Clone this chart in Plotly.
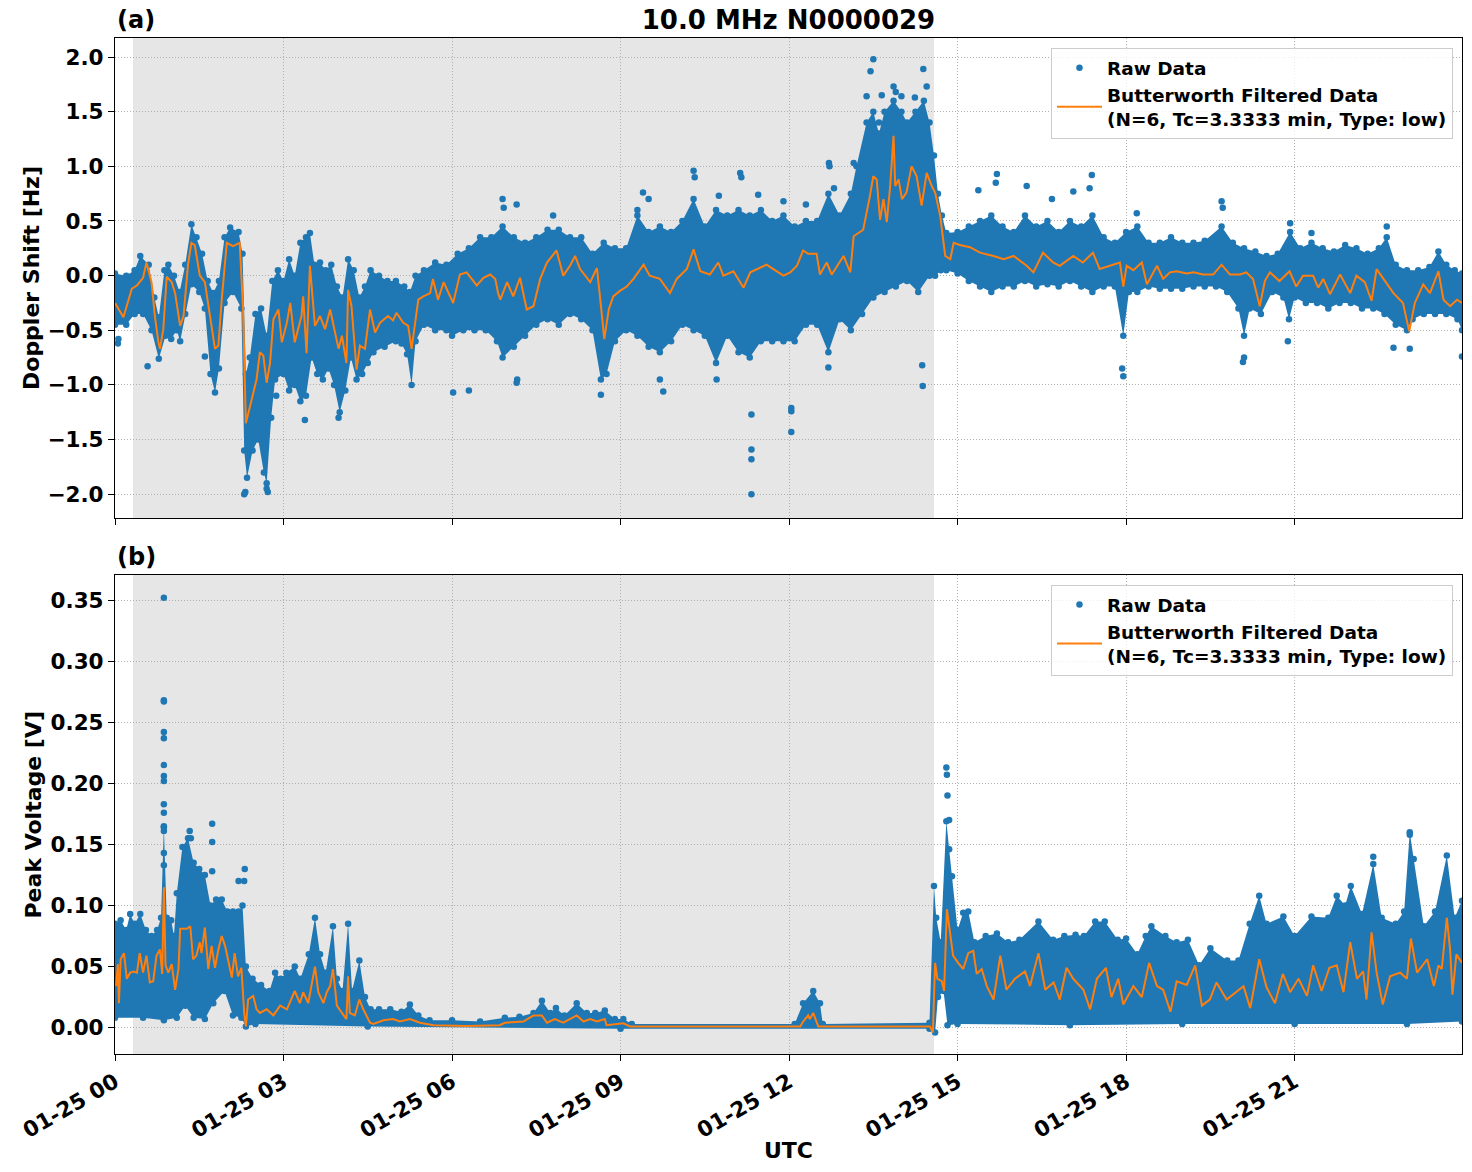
import pandas as pd
import plotly.graph_objects as go

# ---------------- data (hours after 01-25 00:00 UTC) ----------------
TOP_FILT_T = [0.00,0.15,0.30,0.39,0.50,0.56,0.65,0.71,0.77,0.80,0.86,0.92,1.01,1.07,1.16,1.22,1.30,1.36,1.42,1.51,
              1.60,1.69,1.78,1.84,1.90,1.99,2.10,2.22,2.28,2.33,2.40,2.46,2.52,2.58,2.64,2.70,2.76,2.82,2.91,2.97,
              3.06,3.12,3.20,3.32,3.35,3.41,3.47,3.56,3.65,3.74,3.83,3.98,4.04,4.12,4.15,4.21,4.30,4.36,4.45,4.54,
              4.63,4.72,4.86,4.95,5.01,5.13,5.22,5.28,5.40,5.49,5.61,5.66,5.75,5.85,6.02,6.14,6.26,6.44,6.56,6.68,
              6.77,6.82,6.86,6.98,7.09,7.21,7.33,7.45,7.57,7.69,7.86,7.98,8.10,8.19,8.28,8.46,8.58,8.67,8.71,8.79,
              8.87,8.99,9.11,9.23,9.41,9.52,9.70,9.88,10.00,10.18,10.30,10.42,10.59,10.74,10.83,11.01,11.19,11.31,11.60,11.72,
              11.90,12.02,12.14,12.25,12.34,12.49,12.55,12.67,12.76,12.97,13.09,13.15,13.32,13.44,13.50,13.56,13.62,13.68,13.74,13.80,
              13.86,13.89,13.95,14.01,14.09,14.18,14.27,14.36,14.45,14.54,14.60,14.69,14.78,14.87,14.93,15.04,15.22,15.40,15.64,15.82,
              16.00,16.23,16.35,16.52,16.70,16.82,17.06,17.23,17.41,17.53,17.77,17.89,17.95,18.01,18.13,18.28,18.37,18.55,18.66,18.78,
              18.90,19.08,19.20,19.37,19.55,19.70,19.85,20.03,20.14,20.26,20.38,20.47,20.56,20.73,20.91,21.03,21.15,21.33,21.42,21.51,
              21.63,21.81,21.99,22.10,22.25,22.37,22.46,22.58,22.76,22.93,23.04,23.14,23.29,23.41,23.56,23.65,23.77,23.89,23.98]
TOP_FILT_V = [-0.25,-0.38,-0.12,-0.09,-0.02,0.12,-0.06,-0.37,-0.60,-0.67,-0.49,-0.01,-0.06,-0.16,-0.46,-0.37,0.10,0.30,0.28,0.00,
              -0.06,-0.37,-0.67,-0.64,-0.22,0.30,0.27,0.30,-0.31,-1.35,-1.20,-1.10,-0.95,-0.70,-0.73,-0.98,-0.80,-0.40,-0.31,-0.61,
              -0.43,-0.25,-0.61,-0.37,-0.19,-0.71,0.09,-0.46,-0.37,-0.49,-0.31,-0.67,-0.55,-0.80,-0.13,-0.28,-0.86,-0.64,-0.67,-0.31,
              -0.52,-0.43,-0.37,-0.41,-0.34,-0.43,-0.46,-0.67,-0.22,-0.19,-0.16,-0.03,-0.22,-0.06,-0.25,0.01,0.03,-0.09,-0.02,0.01,
              -0.03,-0.16,-0.22,-0.06,-0.19,-0.02,-0.31,-0.28,-0.03,0.12,0.23,0.00,0.09,0.18,0.06,-0.06,0.07,-0.37,-0.58,-0.31,
              -0.19,-0.14,-0.10,-0.03,0.10,0.00,-0.03,-0.16,-0.03,0.06,0.24,0.04,0.01,0.12,0.00,0.04,-0.11,0.03,0.10,0.06,
              0.00,0.03,0.09,0.23,0.20,0.20,0.01,0.12,0.01,0.18,0.03,0.36,0.42,0.73,0.91,0.88,0.51,0.70,0.49,0.82,
              1.28,0.82,0.88,0.70,0.76,1.00,0.91,0.64,0.94,0.82,0.76,0.55,0.18,0.15,0.30,0.28,0.26,0.21,0.18,0.15,
              0.18,0.09,0.03,0.21,0.12,0.09,0.18,0.12,0.21,0.06,0.10,0.12,-0.10,0.09,0.05,0.12,-0.08,0.09,-0.03,0.03,
              0.04,0.02,0.03,0.01,0.01,0.10,0.01,0.01,0.03,-0.03,-0.28,-0.05,0.03,-0.05,0.04,-0.10,0.00,0.00,-0.11,-0.03,
              -0.17,0.01,-0.16,0.00,-0.06,-0.23,0.06,-0.03,-0.16,-0.25,-0.51,-0.25,-0.08,-0.16,0.04,-0.22,-0.28,-0.22,-0.25]

TOP_HI_T = [0.0,0.2,0.35,0.45,0.6,0.7,0.78,0.88,0.95,1.05,1.15,1.25,1.36,1.45,1.55,1.65,1.75,1.85,1.95,2.05,
            2.2,2.27,2.33,2.40,2.50,2.6,2.7,2.8,2.9,3.0,3.1,3.2,3.3,3.4,3.47,3.55,3.65,3.75,3.85,3.95,
            4.05,4.15,4.25,4.35,4.45,4.55,4.7,4.85,5.0,5.15,5.25,5.35,5.5,5.7,5.9,6.1,6.3,6.5,6.7,6.9,
            7.1,7.3,7.5,7.7,7.9,8.1,8.3,8.5,8.7,8.9,9.1,9.3,9.5,9.7,9.9,10.1,10.3,10.5,10.7,10.9,
            11.1,11.3,11.5,11.7,11.9,12.1,12.3,12.5,12.7,12.9,13.1,13.2,13.38,13.5,13.6,13.7,13.86,14.0,14.1,14.25,
            14.4,14.5,14.58,14.65,14.72,14.8,15.0,15.2,15.4,15.6,15.8,16.0,16.2,16.4,16.6,16.8,17.0,17.2,17.4,17.6,
            17.8,18.0,18.2,18.4,18.6,18.8,19.0,19.2,19.4,19.7,19.9,20.1,20.3,20.5,20.7,20.92,21.1,21.3,21.5,21.7,
            21.9,22.1,22.3,22.5,22.64,22.8,23.0,23.2,23.4,23.56,23.7,23.85,23.98]
TOP_HI = [0.02,0.00,0.05,0.18,0.10,-0.20,-0.38,0.05,0.10,0.00,-0.15,0.10,0.47,0.35,0.20,-0.05,-0.16,-0.05,0.35,0.44,
          0.40,0.20,-0.90,-0.75,-0.35,-0.30,-0.55,-0.05,0.05,-0.05,0.15,0.00,0.30,0.35,0.39,0.10,0.12,0.05,0.10,-0.10,
          -0.20,0.15,0.05,-0.20,-0.10,0.05,0.00,-0.05,-0.05,-0.10,-0.15,0.00,0.05,0.12,0.10,0.20,0.25,0.35,0.35,0.45,
          0.35,0.30,0.35,0.42,0.42,0.35,0.35,0.20,0.30,0.25,0.25,0.55,0.40,0.45,0.40,0.50,0.70,0.45,0.60,0.55,
          0.60,0.55,0.60,0.50,0.55,0.45,0.50,0.50,0.75,0.55,0.75,1.00,1.40,1.50,1.30,1.50,1.60,1.50,1.40,1.50,
          1.60,1.40,1.10,0.75,0.55,0.39,0.40,0.45,0.50,0.55,0.45,0.40,0.55,0.45,0.50,0.40,0.50,0.45,0.55,0.35,
          0.30,0.40,0.45,0.30,0.30,0.35,0.30,0.30,0.32,0.45,0.30,0.25,0.22,0.18,0.20,0.40,0.25,0.30,0.25,0.22,
          0.28,0.25,0.20,0.25,0.35,0.10,0.05,0.05,0.08,0.22,0.10,0.05,0.02]

TOP_LO_T = [0.0,0.2,0.35,0.5,0.65,0.78,0.9,1.0,1.1,1.16,1.25,1.36,1.5,1.6,1.7,1.78,1.85,1.95,2.1,2.25,
            2.3,2.35,2.45,2.55,2.65,2.7,2.78,2.85,3.0,3.1,3.2,3.3,3.4,3.5,3.6,3.7,3.8,3.9,4.0,4.1,
            4.2,4.3,4.4,4.5,4.6,4.8,5.0,5.1,5.2,5.28,5.35,5.5,5.7,5.9,6.0,6.2,6.4,6.6,6.8,6.9,
            7.1,7.3,7.5,7.7,7.9,8.1,8.3,8.5,8.65,8.75,8.9,9.1,9.3,9.5,9.7,9.9,10.1,10.3,10.5,10.7,
            10.9,11.1,11.3,11.5,11.7,11.9,12.1,12.3,12.5,12.7,12.9,13.1,13.3,13.5,13.7,13.9,14.1,14.3,14.5,14.6,
            14.7,14.8,15.0,15.2,15.4,15.6,15.8,16.0,16.2,16.4,16.6,16.8,17.0,17.2,17.4,17.6,17.8,17.95,18.05,18.2,
            18.4,18.6,18.8,19.0,19.2,19.4,19.6,19.8,20.0,20.1,20.2,20.4,20.6,20.8,20.9,21.0,21.2,21.4,21.6,21.8,
            22.0,22.2,22.4,22.6,22.8,23.0,23.1,23.3,23.5,23.7,23.9,23.98]
TOP_LO = [-0.45,-0.45,-0.35,-0.35,-0.50,-0.76,-0.55,-0.58,-0.50,-0.60,-0.35,-0.08,-0.15,-0.30,-0.90,-1.07,-0.85,-0.25,-0.15,-0.30,
          -1.60,-1.85,-1.60,-1.50,-1.80,-1.90,-1.30,-0.95,-0.90,-1.05,-1.00,-1.15,-1.10,-0.75,-0.90,-0.95,-0.85,-1.00,-1.25,-1.05,
          -0.75,-0.95,-0.90,-0.80,-0.70,-0.65,-0.60,-0.62,-0.72,-1.00,-0.60,-0.45,-0.50,-0.50,-0.55,-0.50,-0.50,-0.50,-0.60,-0.75,
          -0.65,-0.55,-0.45,-0.40,-0.45,-0.35,-0.40,-0.50,-0.95,-0.90,-0.60,-0.50,-0.55,-0.65,-0.70,-0.60,-0.45,-0.50,-0.55,-0.80,
          -0.55,-0.70,-0.75,-0.60,-0.60,-0.60,-0.60,-0.45,-0.45,-0.70,-0.40,-0.50,-0.35,-0.20,-0.15,-0.10,-0.05,-0.15,0.00,0.00,
          0.05,0.05,0.02,-0.05,-0.10,-0.15,-0.10,-0.10,-0.05,-0.10,-0.08,-0.10,-0.05,-0.10,-0.15,-0.10,-0.10,-0.55,-0.15,-0.15,
          -0.10,-0.12,-0.12,-0.12,-0.10,-0.10,-0.10,-0.15,-0.30,-0.55,-0.30,-0.35,-0.15,-0.20,-0.40,-0.20,-0.25,-0.25,-0.30,-0.25,
          -0.25,-0.30,-0.30,-0.35,-0.45,-0.50,-0.40,-0.35,-0.35,-0.35,-0.40,-0.50]

TOP_OUT_T = [0.05,0.06,0.58,1.60,2.30,2.32,2.70,2.72,2.87,3.38,3.98,6.02,6.30,7.15,7.16,8.65,9.70,9.76,10.71,11.33,
             11.33,11.33,11.33,12.04,12.04,12.04,12.70,14.37,14.38,17.93,17.95,20.08,20.10,20.88,22.76,23.05,23.98,
             6.90,6.92,7.15,7.80,9.30,9.40,9.50,10.30,10.32,10.75,11.13,11.15,11.45,11.90,12.30,12.71,12.72,12.80,13.15,
             13.38,13.45,13.50,13.60,13.65,13.86,13.90,14.00,14.24,14.39,14.45,15.37,15.68,15.70,16.23,16.68,17.06,17.35,17.39,
             18.19,19.70,19.72,20.92,21.30,22.64]
TOP_OUT_V = [-0.62,-0.58,-0.83,-0.74,-2.00,-1.98,-1.95,-1.98,-1.10,-1.32,-1.30,-1.07,-1.05,-0.98,-0.95,-1.09,-0.95,-1.06,-0.95,-1.27,
             -1.59,-1.68,-2.00,-1.21,-1.24,-1.43,-0.84,-0.82,-1.01,-0.85,-0.92,-0.79,-0.75,-0.60,-0.66,-0.67,-0.74,
             0.70,0.62,0.65,0.55,0.60,0.76,0.70,0.96,0.90,0.73,0.94,0.90,0.74,0.68,0.65,1.03,1.00,0.80,1.03,
             1.64,1.87,1.98,1.40,1.65,1.73,1.68,1.64,1.63,1.89,1.73,0.78,0.85,0.93,0.82,0.70,0.77,0.80,0.92,
             0.57,0.68,0.62,0.48,0.39,0.45]

BOT_FILT_T = [0.02,0.05,0.07,0.10,0.16,0.21,0.27,0.33,0.39,0.44,0.50,0.56,0.62,0.68,0.74,0.80,0.84,0.87,0.90,0.95,
              1.01,1.07,1.13,1.16,1.28,1.34,1.39,1.45,1.51,1.54,1.60,1.66,1.72,1.78,1.84,1.90,1.96,2.02,2.08,2.13,
              2.19,2.25,2.30,2.33,2.37,2.46,2.52,2.58,2.70,2.82,2.94,3.06,3.14,3.20,3.29,3.35,3.44,3.50,3.56,3.62,
              3.71,3.77,3.83,3.88,3.95,4.04,4.12,4.15,4.18,4.27,4.35,4.42,4.54,4.60,4.78,4.95,5.07,5.25,5.43,5.67,
              6.26,6.85,6.94,7.27,7.45,7.60,7.69,7.83,7.98,8.22,8.34,8.46,8.58,8.72,8.75,9.05,9.17,12.20,12.25,12.34,
              12.37,12.43,12.52,14.51,14.56,14.60,14.64,14.72,14.76,14.81,14.87,14.92,15.01,15.10,15.19,15.28,15.34,15.43,15.52,15.64,
              15.76,15.87,16.02,16.20,16.29,16.44,16.56,16.71,16.82,16.94,17.06,17.24,17.36,17.48,17.64,17.74,17.86,17.95,18.13,18.28,
              18.41,18.55,18.66,18.79,18.90,19.08,19.23,19.35,19.49,19.61,19.79,19.97,20.09,20.21,20.37,20.50,20.65,20.79,20.92,21.07,
              21.22,21.33,21.48,21.62,21.75,21.87,21.99,22.11,22.22,22.28,22.37,22.46,22.57,22.70,22.88,23.00,23.07,23.18,23.36,23.48,
              23.56,23.62,23.71,23.77,23.81,23.88,23.98]
BOT_FILT_V = [0.034,0.052,0.020,0.056,0.061,0.040,0.045,0.046,0.045,0.061,0.045,0.059,0.037,0.038,0.059,0.064,0.044,0.115,0.051,0.045,
              0.052,0.031,0.048,0.081,0.081,0.083,0.056,0.059,0.070,0.061,0.082,0.048,0.067,0.049,0.064,0.075,0.067,0.053,0.041,0.061,
              0.042,0.049,0.012,0.001,0.023,0.026,0.015,0.012,0.015,0.010,0.018,0.015,0.023,0.030,0.020,0.029,0.020,0.034,0.050,0.029,
              0.020,0.029,0.034,0.048,0.018,0.012,0.007,0.042,0.012,0.010,0.023,0.015,0.004,0.003,0.006,0.007,0.005,0.007,0.004,0.002,
              0.0014,0.002,0.004,0.005,0.010,0.010,0.004,0.007,0.004,0.010,0.005,0.007,0.005,0.007,0.002,0.0035,0.001,0.001,0.005,0.010,
              0.007,0.012,0.001,0.001,-0.004,0.053,0.040,0.038,0.030,0.097,0.075,0.059,0.053,0.048,0.061,0.063,0.044,0.048,0.034,0.023,
              0.059,0.031,0.040,0.046,0.034,0.061,0.031,0.037,0.023,0.049,0.040,0.031,0.015,0.040,0.049,0.025,0.040,0.019,0.034,0.025,
              0.053,0.034,0.031,0.013,0.038,0.035,0.051,0.018,0.023,0.037,0.023,0.030,0.034,0.016,0.056,0.033,0.020,0.044,0.029,0.040,
              0.026,0.051,0.030,0.049,0.051,0.029,0.070,0.040,0.046,0.023,0.078,0.045,0.019,0.042,0.045,0.040,0.073,0.045,0.056,0.034,
              0.051,0.048,0.090,0.063,0.027,0.060,0.053]

BOT_HI_T = [0.0,0.1,0.2,0.27,0.35,0.45,0.55,0.65,0.75,0.82,0.87,0.92,1.0,1.05,1.1,1.2,1.3,1.4,1.5,1.6,
            1.7,1.8,1.9,2.0,2.1,2.2,2.27,2.33,2.45,2.6,2.75,2.85,2.95,3.05,3.2,3.3,3.45,3.56,3.65,3.75,
            3.88,3.95,4.05,4.15,4.22,4.35,4.45,4.55,4.7,4.9,5.1,5.25,5.4,5.6,6.0,6.5,6.94,7.2,7.45,7.6,
            7.75,7.85,8.0,8.22,8.4,8.55,8.72,8.9,9.05,9.2,12.1,12.25,12.43,12.55,12.6,14.5,14.58,14.62,14.7,14.8,
            14.85,14.9,15.0,15.1,15.19,15.3,15.5,15.7,15.9,16.1,16.44,16.7,16.9,17.1,17.25,17.45,17.62,17.85,18.0,18.2,
            18.35,18.45,18.7,18.9,19.1,19.3,19.5,19.8,20.0,20.2,20.37,20.5,20.8,21.0,21.3,21.6,21.75,21.9,22.0,22.2,
            22.4,22.55,22.8,22.95,23.05,23.12,23.3,23.5,23.71,23.85,23.98]
BOT_HI = [0.085,0.088,0.080,0.093,0.085,0.093,0.080,0.075,0.080,0.090,0.165,0.090,0.088,0.075,0.110,0.148,0.155,0.135,0.130,0.125,
          0.100,0.105,0.105,0.095,0.095,0.095,0.100,0.050,0.040,0.035,0.030,0.045,0.040,0.045,0.050,0.040,0.060,0.090,0.060,0.045,
          0.083,0.040,0.030,0.085,0.030,0.055,0.025,0.015,0.015,0.015,0.013,0.019,0.010,0.006,0.006,0.005,0.008,0.009,0.012,0.022,
          0.012,0.016,0.010,0.020,0.012,0.012,0.014,0.007,0.007,0.003,0.003,0.020,0.030,0.020,0.003,0.004,0.116,0.090,0.070,0.169,
          0.146,0.124,0.080,0.094,0.095,0.070,0.075,0.077,0.070,0.072,0.087,0.072,0.075,0.076,0.075,0.087,0.087,0.072,0.073,0.060,
          0.075,0.083,0.075,0.070,0.072,0.051,0.065,0.055,0.055,0.085,0.108,0.085,0.091,0.075,0.091,0.090,0.108,0.100,0.116,0.093,
          0.134,0.090,0.085,0.095,0.160,0.138,0.083,0.095,0.141,0.090,0.104]

BOT_LO_T = [0.0,0.5,0.87,1.1,1.25,1.4,1.6,1.75,1.95,2.1,2.25,2.33,2.5,4.5,9.0,14.5,14.6,14.65,14.75,14.82,
            15.0,17.0,19.0,21.0,23.0,23.98]
BOT_LO = [0.008,0.008,0.006,0.008,0.018,0.008,0.007,0.020,0.030,0.010,0.008,0.001,0.003,0.001,-0.001,-0.001,-0.004,0.025,0.030,0.002,
          0.003,0.002,0.003,0.003,0.003,0.005]

BOT_OUT_T = [0.87,0.87,0.87,0.87,0.87,0.87,0.87,0.87,0.87,0.87,0.87,0.87,0.87,0.87,1.33,1.35,1.73,1.73,1.73,2.20,
             2.30,2.31,14.80,14.81,14.82,14.85,22.40,23.05]
BOT_OUT_V = [0.352,0.268,0.267,0.242,0.237,0.215,0.206,0.202,0.183,0.176,0.164,0.161,0.143,0.133,0.161,0.155,0.167,0.152,0.128,0.120,
             0.120,0.130,0.213,0.207,0.190,0.170,0.140,0.158]

SHADE_START, SHADE_END = 0.32, 14.58
TICK_HOURS = [0, 3, 6, 9, 12, 15, 18, 21]

BASE = pd.Timestamp("2024-01-25 00:00:00")
def tt(hours):
    return [BASE + pd.Timedelta(hours=h) for h in hours]

BLUE = "#1f77b4"
ORANGE = "#ff7f0e"
FONT = "DejaVu Sans"
FILT_NAME = "Butterworth Filtered Data<br>(N=6, Tc=3.3333 min, Type: low)"

fig = go.Figure()

def add_panel(xa, ya, leg, hi_t, hi, lo_t, lo, out_t, out_v, f_t, f_v):
    fig.add_trace(go.Scatter(x=tt(hi_t + lo_t[::-1]), y=hi + lo[::-1], fill="toself", fillcolor=BLUE,
                             mode="lines", line=dict(width=0, color=BLUE), hoverinfo="skip",
                             showlegend=False, xaxis=xa, yaxis=ya))
    fig.add_trace(go.Scatter(x=tt(hi_t + lo_t + out_t), y=hi + lo + out_v, mode="markers",
                             marker=dict(size=6.5, color=BLUE), name="Raw Data", legend=leg,
                             xaxis=xa, yaxis=ya))
    fig.add_trace(go.Scatter(x=tt(f_t), y=f_v, mode="lines", line=dict(color=ORANGE, width=2),
                             name=FILT_NAME, legend=leg, xaxis=xa, yaxis=ya))

add_panel("x", "y", "legend", TOP_HI_T, TOP_HI, TOP_LO_T, TOP_LO, TOP_OUT_T, TOP_OUT_V, TOP_FILT_T, TOP_FILT_V)
add_panel("x2", "y2", "legend2", BOT_HI_T, BOT_HI, BOT_LO_T, BOT_LO, BOT_OUT_T, BOT_OUT_V, BOT_FILT_T, BOT_FILT_V)

xrange = [BASE, BASE + pd.Timedelta(hours=23.98)]
common_axis = dict(showline=True, linecolor="black", linewidth=1.3, mirror=True, ticks="outside",
                   ticklen=6, tickwidth=1.3, tickcolor="black", showgrid=True, gridcolor="#b0b0b0",
                   griddash="1px,2px", gridwidth=1, zeroline=False,
                   tickfont=dict(family=FONT, size=21.5, color="black", weight="bold"))

legend_common = dict(xanchor="right", yanchor="top", bgcolor="rgba(255,255,255,0.8)",
                     bordercolor="#cccccc", borderwidth=1, itemwidth=45,
                     font=dict(family=FONT, size=18.5, color="black", weight="bold"))

fig.update_layout(
    width=1472, height=1172,
    margin=dict(l=115, r=10, t=38, b=118, autoexpand=False),
    paper_bgcolor="white", plot_bgcolor="white",
    font=dict(family=FONT, size=21, color="black", weight="bold"),
    title=dict(text="10.0 MHz N0000029", x=0.5, xref="paper", xanchor="center",
               y=1 - 20 / 1172, yref="container", yanchor="middle",
               font=dict(family=FONT, size=26, color="black", weight="bold")),
    xaxis=dict(domain=[0, 1], anchor="y", range=xrange, matches="x2", showticklabels=False,
               tickvals=tt(TICK_HOURS), **common_axis),
    xaxis2=dict(domain=[0, 1], anchor="y2", range=xrange, tickvals=tt(TICK_HOURS),
                tickformat="%m-%d %H", tickangle=-30, **common_axis),
    yaxis=dict(domain=[0.5276, 1], anchor="x", range=[-2.217, 2.174],
               tickvals=[-2.0, -1.5, -1.0, -0.5, 0.0, 0.5, 1.0, 1.5, 2.0], tickformat=".1f", **common_axis),
    yaxis2=dict(domain=[0, 0.4715], anchor="x2", range=[-0.0216, 0.3707],
                tickvals=[0.0, 0.05, 0.10, 0.15, 0.20, 0.25, 0.30, 0.35], tickformat=".2f", **common_axis),
    legend=dict(x=0.9933, y=0.990, **legend_common),
    legend2=dict(x=0.9933, y=0.4616, **legend_common),
    showlegend=True,
)

for xa, ya in (("x", "y"), ("x2", "y2")):
    fig.add_shape(type="rect", xref=xa, yref=ya + " domain", x0=BASE + pd.Timedelta(hours=SHADE_START),
                  x1=BASE + pd.Timedelta(hours=SHADE_END), y0=0, y1=1, fillcolor="#e6e6e6",
                  line=dict(width=0), layer="below")

ann_font = dict(family=FONT, size=22, color="black", weight="bold")
label_font = dict(family=FONT, size=24, color="black", weight="bold")
fig.add_annotation(text="(a)", x=0, xref="paper", xanchor="left", y=(1054 - 20) / 1016, yref="paper",
                   yanchor="middle", showarrow=False, font=label_font)
fig.add_annotation(text="(b)", x=0, xref="paper", xanchor="left", y=(1054 - 557) / 1016, yref="paper",
                   yanchor="middle", showarrow=False, font=label_font)
fig.add_annotation(text="Doppler Shift [Hz]", x=(31 - 115) / 1347, xref="paper", xanchor="center",
                   y=(1054 - 278) / 1016, yref="paper", yanchor="middle", textangle=-90,
                   showarrow=False, font=ann_font)
fig.add_annotation(text="Peak Voltage [V]", x=(33 - 115) / 1347, xref="paper", xanchor="center",
                   y=(1054 - 814.5) / 1016, yref="paper", yanchor="middle", textangle=-90,
                   showarrow=False, font=ann_font)
fig.add_annotation(text="UTC", x=0.5, xref="paper", xanchor="center", y=(1054 - 1150) / 1016,
                   yref="paper", yanchor="middle", showarrow=False, font=ann_font)

fig.write_html("out.html")
